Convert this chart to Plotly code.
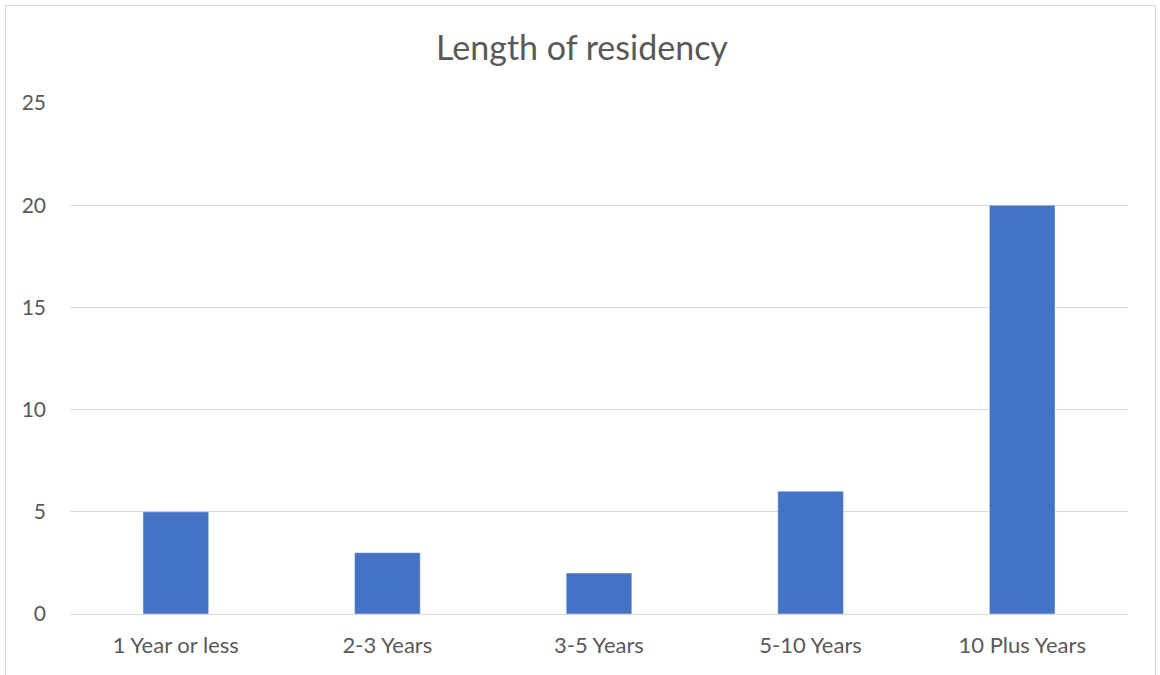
import plotly.graph_objects as go

categories = ["1 Year or less", "2-3 Years", "3-5 Years", "5-10 Years", "10 Plus Years"]
values = [5, 3, 2, 6, 20]
y_ticks = [0, 5, 10, 15, 20, 25]

L, R, T, B = 70, 32, 103, 61
W, H = 1160, 675
pw, ph = W - L - R, H - T - B

fig = go.Figure(go.Bar(x=categories, y=values, marker_color="#4472C4", width=0.31))

def px2x(p):
    return (p - L) / pw

def py2y(p):
    return (H - B - p) / ph

fig.add_shape(type="rect", xref="paper", yref="paper",
              x0=px2x(5.5), x1=px2x(1155.5), y0=py2y(700), y1=py2y(5.5),
              line=dict(color="#D9D9D9", width=1), fillcolor="rgba(0,0,0,0)", layer="below")

fig.update_layout(
    width=W, height=H,
    margin=dict(l=L, r=R, t=T, b=B),
    paper_bgcolor="white", plot_bgcolor="white",
    font=dict(family="Lato, Open Sans, sans-serif", color="#595959", size=22),
    title=dict(text="Length of residency", x=px2x(582), xref="paper", xanchor="center",
               y=1 - 48 / H, yanchor="middle", yref="container",
               font=dict(size=34, color="#595959")),
    showlegend=False,
    xaxis=dict(showgrid=False, showline=True, linecolor="#D9D9D9", linewidth=1,
               ticks="", ticklabelstandoff=12, tickfont=dict(size=22, color="#595959")),
    yaxis=dict(range=[0, 25], tickvals=y_ticks, showgrid=True, gridcolor="#D9D9D9",
               gridwidth=1, zeroline=False, showline=False, ticks="",
               ticklabelstandoff=23, tickfont=dict(size=21, color="#595959")),
)

fig.write_html("out.html", config={"displayModeBar": False},
               post_script="document.body.style.margin='0';")
